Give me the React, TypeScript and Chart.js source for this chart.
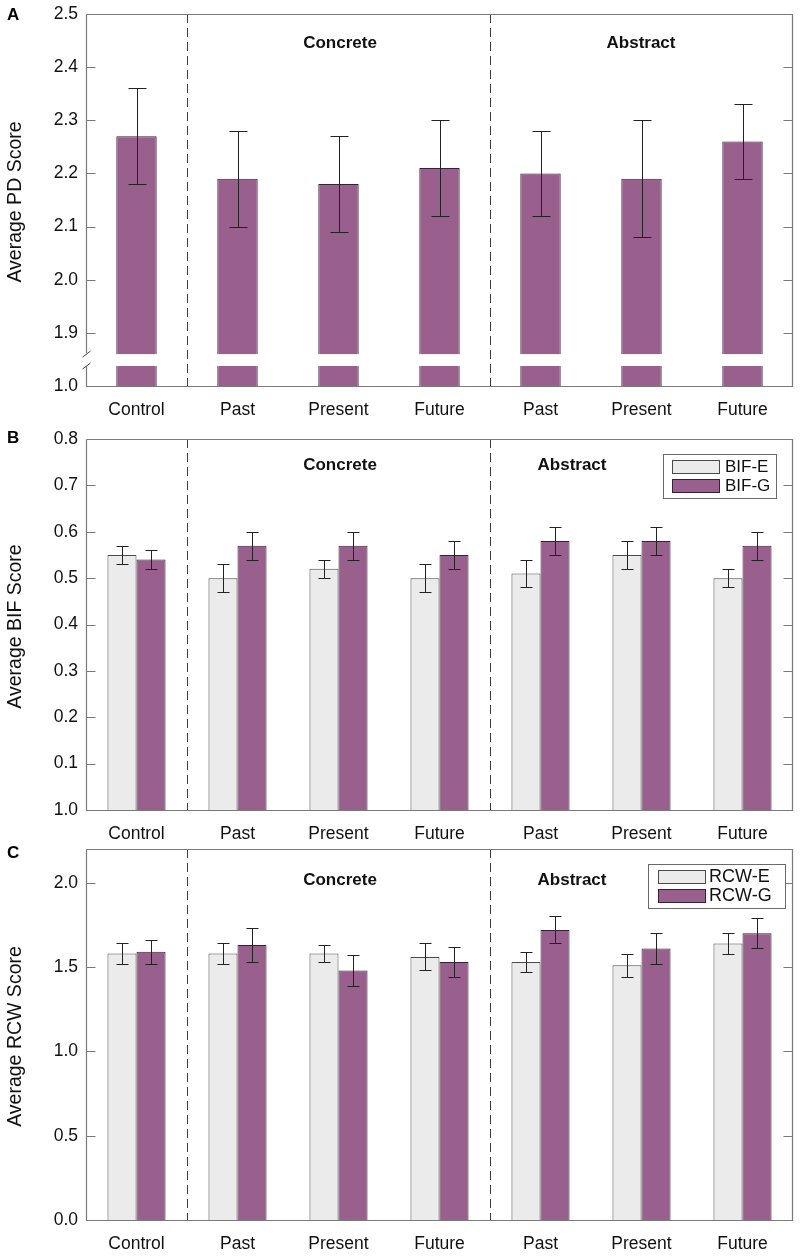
import React, { useEffect, useRef } from 'react';
import { Chart, registerables } from 'chart.js';

Chart.register(...registerables);

// ---------- data ----------
const categories = ['Control', 'Past', 'Present', 'Future', 'Past', 'Present', 'Future'];
const separatorsAfter = [0, 3];

// Panel A (PD)
const pdMeans = [2.27, 2.19, 2.18, 2.21, 2.2, 2.19, 2.26];
const pdLow = [2.18, 2.1, 2.09, 2.12, 2.12, 2.08, 2.19];
const pdHigh = [2.36, 2.28, 2.27, 2.3, 2.28, 2.3, 2.33];
const pdTickValues = [1.8, 1.9, 2.0, 2.1, 2.2, 2.3, 2.4, 2.5];
const pdTickLabels = ['1.0', '1.9', '2.0', '2.1', '2.2', '2.3', '2.4', '2.5'];
const pdBreak = [1.86, 1.8376];

// Panel B (BIF)
const bifE = [0.55, 0.5, 0.52, 0.5, 0.51, 0.55, 0.5];
const bifELow = [0.53, 0.47, 0.5, 0.47, 0.48, 0.52, 0.48];
const bifEHigh = [0.57, 0.53, 0.54, 0.53, 0.54, 0.58, 0.52];
const bifG = [0.54, 0.57, 0.57, 0.55, 0.58, 0.58, 0.57];
const bifGLow = [0.52, 0.54, 0.54, 0.52, 0.55, 0.55, 0.54];
const bifGHigh = [0.56, 0.6, 0.6, 0.58, 0.61, 0.61, 0.6];
const bifTickValues = [0, 0.1, 0.2, 0.3, 0.4, 0.5, 0.6, 0.7, 0.8];
const bifTickLabels = ['1.0', '0.1', '0.2', '0.3', '0.4', '0.5', '0.6', '0.7', '0.8'];

// Panel C (RCW)
const rcwE = [1.58, 1.58, 1.58, 1.56, 1.53, 1.51, 1.64];
const rcwELow = [1.52, 1.52, 1.53, 1.48, 1.47, 1.44, 1.58];
const rcwEHigh = [1.64, 1.64, 1.63, 1.64, 1.59, 1.58, 1.7];
const rcwG = [1.59, 1.63, 1.48, 1.53, 1.72, 1.61, 1.7];
const rcwGLow = [1.52, 1.53, 1.39, 1.44, 1.64, 1.52, 1.61];
const rcwGHigh = [1.66, 1.73, 1.57, 1.62, 1.8, 1.7, 1.79];
const rcwTickValues = [0, 0.5, 1.0, 1.5, 2.0];
const rcwTickLabels = ['0.0', '0.5', '1.0', '1.5', '2.0'];

// ---------- styles ----------
const PURPLE = '#995f8d';
const PURPLE_BORDER = '#3a2036';
const LIGHT = '#ebebeb';
const LIGHT_BORDER = '#4a4a4a';
const FRAME = '#7a7a7a';
const TEXT = '#111111';
const FONT = 'Liberation Sans';

type LegendItem = { label: string; fill: string; border: string };
type PanelCfg = {
  height: number;
  top: number;
  padTop: number;
  xAxisH: number;
  letter: string;
  letterPos: [number, number];
  yTitle: string;
  min: number;
  max: number;
  tickValues: number[];
  tickLabels: string[];
  datasets: { data: number[]; fill: string; border: string; lo: number[]; hi: number[] }[];
  barPercentage: number;
  categoryPercentage: number;
  capW: number;
  groupLabels: { text: string; x: number; y: number }[];
  brk?: number[];
  legend?: {
    box: [number, number, number, number];
    swX: number;
    swW: number;
    swH: number;
    rows: number[];
    textX: number;
    font: string;
    items: LegendItem[];
  };
};

function makePlugin(cfg: PanelCfg) {
  return {
    id: 'panelDecor' + cfg.letter,
    afterDatasetsDraw(chart: any) {
      const ctx: CanvasRenderingContext2D = chart.ctx;
      const a = chart.chartArea;
      const ys = chart.scales.y;
      const xs = chart.scales.x;
      ctx.save();

      let gapTop = 0;
      let gapBot = 0;
      if (cfg.brk) {
        gapTop = ys.getPixelForValue(cfg.brk[0]);
        gapBot = ys.getPixelForValue(cfg.brk[1]);
        ctx.fillStyle = '#ffffff';
        chart.data.datasets.forEach((_: any, i: number) => {
          chart.getDatasetMeta(i).data.forEach((el: any) => {
            ctx.fillRect(el.x - el.width / 2 - 1.5, gapTop, el.width + 3, gapBot - gapTop);
          });
        });
      }

      // dashed separators
      ctx.strokeStyle = '#3a3a3a';
      ctx.lineWidth = 1;
      ctx.setLineDash([9, 5]);
      separatorsAfter.forEach((idx) => {
        const px = Math.round((xs.getPixelForValue(idx) + xs.getPixelForValue(idx + 1)) / 2) + 0.5;
        ctx.beginPath();
        ctx.moveTo(px, a.top);
        ctx.lineTo(px, a.bottom);
        ctx.stroke();
      });
      ctx.setLineDash([]);

      // error bars
      ctx.strokeStyle = '#222222';
      ctx.lineWidth = 1;
      cfg.datasets.forEach((ds, i) => {
        chart.getDatasetMeta(i).data.forEach((el: any, j: number) => {
          const x = Math.round(el.x) + 0.5;
          const yl = Math.round(ys.getPixelForValue(ds.lo[j])) + 0.5;
          const yh = Math.round(ys.getPixelForValue(ds.hi[j])) + 0.5;
          ctx.beginPath();
          ctx.moveTo(x, yl);
          ctx.lineTo(x, yh);
          ctx.moveTo(x - cfg.capW / 2, yl);
          ctx.lineTo(x + cfg.capW / 2, yl);
          ctx.moveTo(x - cfg.capW / 2, yh);
          ctx.lineTo(x + cfg.capW / 2, yh);
          ctx.stroke();
        });
      });

      // frame
      const L = Math.round(a.left) + 0.5;
      const R = Math.round(a.right) - 0.5;
      const T = Math.round(a.top) + 0.5;
      const B = Math.round(a.bottom) + 0.5;
      ctx.strokeStyle = FRAME;
      ctx.lineWidth = 1.2;
      ctx.beginPath();
      ctx.moveTo(L, T);
      ctx.lineTo(R, T);
      ctx.lineTo(R, B);
      ctx.lineTo(L, B);
      if (cfg.brk) {
        ctx.lineTo(L, gapBot);
        ctx.moveTo(L, gapTop - 1);
        ctx.lineTo(L, T);
      } else {
        ctx.lineTo(L, T);
      }
      ctx.stroke();
      if (cfg.brk) {
        ctx.strokeStyle = '#444';
        ctx.lineWidth = 1;
        ctx.beginPath();
        ctx.moveTo(L - 4, gapTop + 3);
        ctx.lineTo(L + 4, gapTop - 3);
        ctx.moveTo(L - 4, gapBot + 3);
        ctx.lineTo(L + 4, gapBot - 3);
        ctx.stroke();
      }

      // inward ticks
      ctx.strokeStyle = FRAME;
      ctx.lineWidth = 1;
      ctx.beginPath();
      cfg.tickValues.forEach((v) => {
        if (v === cfg.min || v === cfg.max) return;
        const y = Math.round(ys.getPixelForValue(v)) + 0.5;
        ctx.moveTo(L, y);
        ctx.lineTo(L + 9, y);
        ctx.moveTo(R, y);
        ctx.lineTo(R - 9, y);
      });
      ctx.stroke();

      // group labels
      ctx.fillStyle = TEXT;
      ctx.font = `bold 17px "${FONT}"`;
      ctx.textAlign = 'center';
      ctx.textBaseline = 'middle';
      cfg.groupLabels.forEach((g) => ctx.fillText(g.text, g.x, g.y));

      // legend
      if (cfg.legend) {
        const lg = cfg.legend;
        ctx.fillStyle = '#ffffff';
        ctx.fillRect(lg.box[0], lg.box[1], lg.box[2], lg.box[3]);
        ctx.strokeStyle = '#6a6a6a';
        ctx.lineWidth = 1;
        ctx.strokeRect(lg.box[0] + 0.5, lg.box[1] + 0.5, lg.box[2], lg.box[3]);
        lg.items.forEach((it, k) => {
          const sy = lg.rows[k];
          ctx.fillStyle = it.fill;
          ctx.fillRect(lg.swX, sy, lg.swW, lg.swH);
          ctx.strokeStyle = it.border;
          ctx.strokeRect(lg.swX + 0.5, sy + 0.5, lg.swW, lg.swH);
          ctx.fillStyle = TEXT;
          ctx.font = lg.font;
          ctx.textAlign = 'left';
          ctx.textBaseline = 'middle';
          ctx.fillText(it.label, lg.textX, sy + lg.swH / 2 + 1);
        });
      }

      // y title
      ctx.save();
      ctx.translate(16, (a.top + a.bottom) / 2 + 2);
      ctx.rotate(-Math.PI / 2);
      ctx.fillStyle = TEXT;
      ctx.font = `19.5px "${FONT}"`;
      ctx.textAlign = 'center';
      ctx.textBaseline = 'middle';
      ctx.fillText(cfg.yTitle, 0, 0);
      ctx.restore();

      // panel letter
      ctx.fillStyle = '#000';
      ctx.font = `bold 17px "${FONT}"`;
      ctx.textAlign = 'left';
      ctx.textBaseline = 'middle';
      ctx.fillText(cfg.letter, cfg.letterPos[0], cfg.letterPos[1]);

      ctx.restore();
    },
  };
}

function buildConfig(cfg: PanelCfg): any {
  return {
    type: 'bar',
    data: {
      labels: categories,
      datasets: cfg.datasets.map((d) => ({
        data: d.data,
        backgroundColor: d.fill,
        borderColor: d.border,
        borderWidth: 1,
        barPercentage: cfg.barPercentage,
        categoryPercentage: cfg.categoryPercentage,
      })),
    },
    options: {
      responsive: false,
      animation: false,
      devicePixelRatio: 1,
      layout: { padding: { top: cfg.padTop, right: 7, left: 0, bottom: 0 } },
      plugins: { legend: { display: false }, tooltip: { enabled: false } },
      scales: {
        x: {
          grid: { display: false, drawTicks: false },
          border: { display: false },
          ticks: { font: { family: FONT, size: 17.5 }, color: TEXT, padding: 14, maxRotation: 0, autoSkip: false },
          afterFit: (s: any) => {
            s.height = cfg.xAxisH;
            s.paddingLeft = 0;
            s.paddingRight = 0;
          },
        },
        y: {
          min: cfg.min,
          max: cfg.max,
          grid: { display: false, drawTicks: false },
          border: { display: false },
          afterBuildTicks: (s: any) => {
            s.ticks = cfg.tickValues.map((v) => ({ value: v }));
          },
          ticks: {
            font: { family: FONT, size: 17.5 },
            color: TEXT,
            padding: 8,
            callback: (_v: any, i: number) => cfg.tickLabels[i],
          },
          afterFit: (s: any) => {
            s.width = 86;
            s.paddingTop = 0;
            s.paddingBottom = 0;
          },
        },
      },
    },
    plugins: [makePlugin(cfg)],
  };
}

const panelA: PanelCfg = {
  height: 425,
  top: 0,
  padTop: 14,
  xAxisH: 39,
  letter: 'A',
  letterPos: [7, 15],
  yTitle: 'Average PD Score',
  min: 1.8,
  max: 2.5,
  tickValues: pdTickValues,
  tickLabels: pdTickLabels,
  datasets: [{ data: pdMeans, fill: PURPLE, border: PURPLE_BORDER, lo: pdLow, hi: pdHigh }],
  barPercentage: 0.4,
  categoryPercentage: 1,
  capW: 18,
  groupLabels: [
    { text: 'Concrete', x: 340, y: 43 },
    { text: 'Abstract', x: 641, y: 43 },
  ],
  brk: pdBreak,
};

const panelB: PanelCfg = {
  height: 420,
  top: 425,
  padTop: 14,
  xAxisH: 35,
  letter: 'B',
  letterPos: [7, 13],
  yTitle: 'Average BIF Score',
  min: 0,
  max: 0.8,
  tickValues: bifTickValues,
  tickLabels: bifTickLabels,
  datasets: [
    { data: bifE, fill: LIGHT, border: LIGHT_BORDER, lo: bifELow, hi: bifEHigh },
    { data: bifG, fill: PURPLE, border: PURPLE_BORDER, lo: bifGLow, hi: bifGHigh },
  ],
  barPercentage: 1,
  categoryPercentage: 0.575,
  capW: 12,
  groupLabels: [
    { text: 'Concrete', x: 340, y: 40 },
    { text: 'Abstract', x: 572, y: 40 },
  ],
  legend: {
    box: [663, 29, 113, 44],
    swX: 672,
    swW: 47,
    swH: 13,
    rows: [35, 54],
    textX: 725,
    font: `17px "${FONT}"`,
    items: [
      { label: 'BIF-E', fill: LIGHT, border: LIGHT_BORDER },
      { label: 'BIF-G', fill: PURPLE, border: PURPLE_BORDER },
    ],
  },
};

const panelC: PanelCfg = {
  height: 414,
  top: 845,
  padTop: 4,
  xAxisH: 39,
  letter: 'C',
  letterPos: [7, 8],
  yTitle: 'Average RCW Score',
  min: 0,
  max: 2.2,
  tickValues: rcwTickValues,
  tickLabels: rcwTickLabels,
  datasets: [
    { data: rcwE, fill: LIGHT, border: LIGHT_BORDER, lo: rcwELow, hi: rcwEHigh },
    { data: rcwG, fill: PURPLE, border: PURPLE_BORDER, lo: rcwGLow, hi: rcwGHigh },
  ],
  barPercentage: 1,
  categoryPercentage: 0.575,
  capW: 12,
  groupLabels: [
    { text: 'Concrete', x: 340, y: 35 },
    { text: 'Abstract', x: 572, y: 35 },
  ],
  legend: {
    box: [648, 19, 137, 44],
    swX: 658,
    swW: 47,
    swH: 13,
    rows: [25, 44],
    textX: 709,
    font: `18px "${FONT}"`,
    items: [
      { label: 'RCW-E', fill: LIGHT, border: LIGHT_BORDER },
      { label: 'RCW-G', fill: PURPLE, border: PURPLE_BORDER },
    ],
  },
};

function Panel({ cfg }: { cfg: PanelCfg }) {
  const ref = useRef<HTMLCanvasElement>(null);
  useEffect(() => {
    if (!ref.current) return;
    const chart = new Chart(ref.current, buildConfig(cfg));
    return () => chart.destroy();
  }, []);
  return (
    <canvas
      ref={ref}
      width={800}
      height={cfg.height}
      style={{ position: 'absolute', left: 0, top: cfg.top, width: 800, height: cfg.height }}
    />
  );
}

export default function App() {
  return (
    <div style={{ position: 'absolute', left: 0, top: 0, width: 800, height: 1259, background: '#fff' }}>
      <Panel cfg={panelA} />
      <Panel cfg={panelB} />
      <Panel cfg={panelC} />
    </div>
  );
}
